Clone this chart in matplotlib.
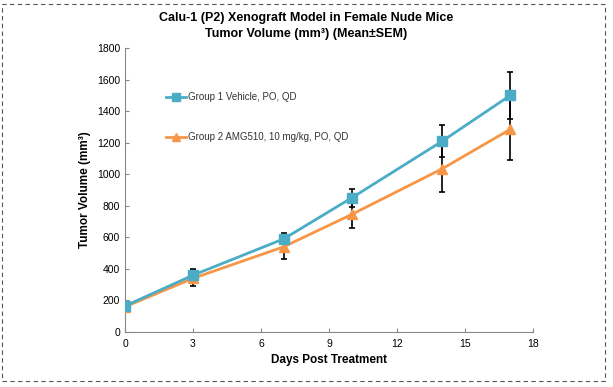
import numpy as np
import matplotlib.pyplot as plt
from matplotlib.patches import Rectangle

plt.rcParams['font.family'] = ['Liberation Sans', 'DejaVu Sans']

#%% data
days = [0, 3, 7, 10, 14, 17]
g1_mean = [165, 360, 590, 850, 1210, 1500]
g1_sem = [15, 40, 35, 55, 100, 150]
g2_mean = [160, 340, 540, 745, 1035, 1285]
g2_sem = [15, 50, 75, 85, 145, 195]
g1_label = 'Group 1 Vehicle, PO, QD'
g2_label = 'Group 2 AMG510, 10 mg/kg, PO, QD'
xticks = [0, 3, 6, 9, 12, 15, 18]
yticks = np.arange(0, 1801, 200)

teal = '#4BACC6'
orange = '#F79646'

#%% plot
fig = plt.figure(figsize=(6.13, 3.87), dpi=100)
ax = fig.add_axes([125/613, 55/387, 408/613, 284/387])

ax.errorbar(days, g1_mean, yerr=g1_sem, fmt='none', ecolor='black',
            elinewidth=1.2, capsize=2.5, capthick=1.2, zorder=2)
ax.errorbar(days, g2_mean, yerr=g2_sem, fmt='none', ecolor='black',
            elinewidth=1.2, capsize=2.5, capthick=1.2, zorder=2)
ax.plot(days, g1_mean, color=teal, lw=2, marker='s', ms=6.5, label=g1_label, zorder=4)
ax.plot(days, g2_mean, color=orange, lw=2, marker='^', ms=6.5, label=g2_label, zorder=3)

ax.set_xlim(0, 18)
ax.set_ylim(0, 1800)
ax.set_xticks(xticks)
ax.set_yticks(yticks)
ax.tick_params(labelsize=7.5, length=3, color='#888888', direction='in')
for sp in ['top', 'right']:
    ax.spines[sp].set_visible(False)
for sp in ['left', 'bottom']:
    ax.spines[sp].set_color('#888888')
ax.tick_params(axis='x', pad=5)
ax.set_xlabel('Days Post Treatment', fontsize=8.5, fontweight='bold')
ax.set_ylabel('Tumor Volume (mm³)', fontsize=8.5, fontweight='bold')

fig.text(0.5, 0.945, 'Calu-1 (P2) Xenograft Model in Female Nude Mice', ha='center',
         fontsize=9, fontweight='bold')
fig.text(0.5, 0.905, 'Tumor Volume (mm³) (Mean±SEM)', ha='center',
         fontsize=9, fontweight='bold')

ax.legend(loc='upper left', bbox_to_anchor=(0.08, 0.875), frameon=False, fontsize=7,
          handlelength=2, handletextpad=0.2, labelspacing=3.1, markerscale=0.9,
          labelcolor='#333333')

fig.patches.append(Rectangle((2/613, 6/387), 603/613, 377/387, transform=fig.transFigure,
                             fill=False, ls=(0, (4, 3)), lw=0.8, color='#555555'))

plt.savefig('out.png', dpi=100)
